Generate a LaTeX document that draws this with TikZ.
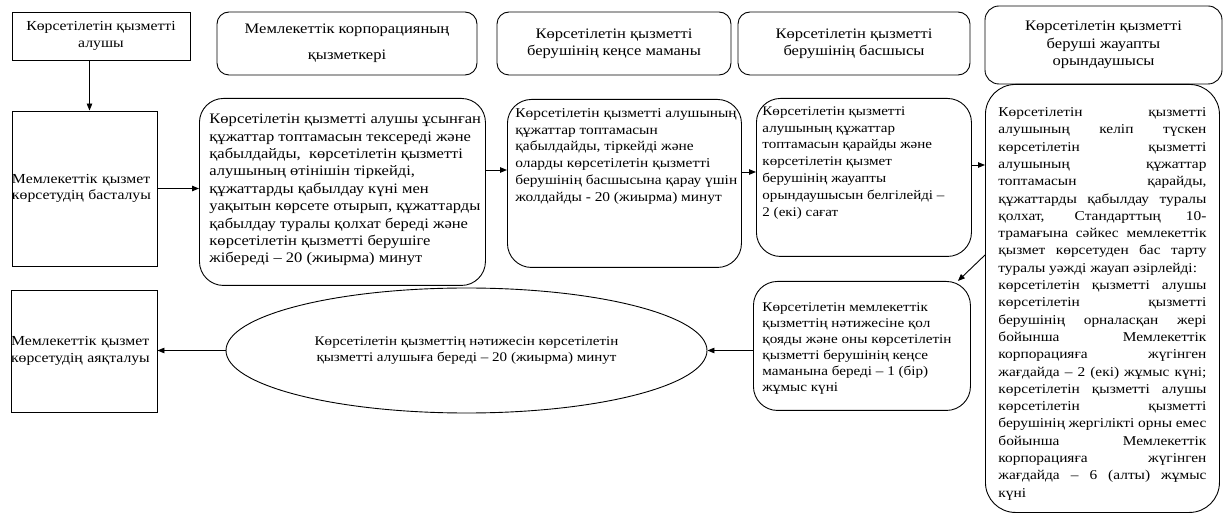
\documentclass[tikz,border=0pt]{standalone}
\usepackage{fontspec}
\setmainfont{Liberation Serif}[FakeStretch=1.14]
\usetikzlibrary{arrows.meta,shapes.geometric}
\newcommand{\topbox}[3]{\parbox[c][#2][t]{#1}{\begin{tabular}{@{}l@{}}#3\end{tabular}}}
\newcommand{\jline}[1]{\makebox[\linewidth][s]{#1}}

\begin{document}
\begin{tikzpicture}[x=1pt,y=-1pt,
    every node/.style={font=\fontsize{14.5}{17.4}\selectfont, line width=0.9pt},
    small/.style={font=\fontsize{#1}{16.8}\selectfont},
    sq/.style={draw, rectangle, inner sep=0pt},
    head/.style={draw, rectangle, rounded corners=12pt, align=center, minimum height=63pt},
    proc/.style={draw, rectangle, rounded corners=24pt, anchor=north west},
    arr/.style={-{Triangle[length=7pt,width=5.5pt]}, line width=0.9pt}]
    \useasboundingbox (0,0) rectangle (1227,521);

    % top row
    \node[sq, small=13.8, minimum width=178pt, minimum height=48pt, align=center] (h1) at (101,36) {Көрсетілетін қызметті\\алушы};
    \node[head, minimum width=260pt] (h2) at (347,43.5) {Мемлекеттік корпорацияның\\[9pt]қызметкері};
    \node[head, minimum width=234pt] (h3) at (614,43.5) {Көрсетілетін қызметті\\берушінің кеңсе маманы};
    \node[head, minimum width=232pt] (h4) at (854,43.5) {Көрсетілетін қызметті\\берушінің басшысы};
    \node[head, rounded corners=14pt, minimum width=237pt, minimum height=78pt] (h5) at (1103.5,45) {Көрсетілетін қызметті\\беруші жауапты\\орындаушысы};

    % steps
    \node[sq, small=13.8, minimum width=145pt, minimum height=155pt, text width=145pt, align=left] (start) at (84.5,188.5) {Мемлекеттік қызмет\\көрсетудің басталуы};
    \node[proc, inner xsep=10pt, inner ysep=13pt] (A) at (199,98) {\topbox{266pt}{161pt}{Көрсетілетін қызметті алушы ұсынған\\
        құжаттар топтамасын тексереді және\\
        қабылдайды,~ көрсетілетін қызметті\\
        алушының өтінішін тіркейді,\\
        құжаттарды қабылдау күні мен\\
        уақытын көрсете отырып, құжаттарды\\
        қабылдау туралы қолхат береді және\\
        көрсетілетін қызметті берушіге\\
        жібереді – 20 (жиырма) минут}};
    \node[proc, small=13.5, inner xsep=8pt, inner ysep=6pt] (B) at (507,99) {\topbox{218pt}{156pt}{Көрсетілетін қызметті алушының\\
        құжаттар топтамасын\\
        қабылдайды, тіркейді және\\
        оларды көрсетілетін қызметті\\
        берушінің басшысына қарау үшін\\
        жолдайды - 20 (жиырма) минут}};
    \node[proc, small=13.2, inner xsep=6pt, inner ysep=5pt] (C) at (756,98) {\topbox{203pt}{148pt}{Көрсетілетін қызметті\\
        алушының құжаттар\\
        топтамасын қарайды және\\
        көрсетілетін қызмет\\
        берушінің жауапты\\
        орындаушысын белгілейді –\\
        2 (екі) сағат}};
    \node[proc, rounded corners=30pt, inner xsep=13pt, inner ysep=20pt, font=\fontsize{13.5}{17.3}\selectfont] (E) at (985,84) {\topbox{208pt}{388pt}{\jline{Көрсетілетін қызметті}\\
        \jline{алушының келіп түскен}\\
        \jline{көрсетілетін қызметті}\\
        \jline{алушының құжаттар}\\
        \jline{топтамасын қарайды,}\\
        \jline{құжаттарды қабылдау туралы}\\
        \jline{қолхат, Стандарттың 10-}\\
        \jline{трамағына сәйкес мемлекеттік}\\
        \jline{қызмет көрсетуден бас тарту}\\
        туралы уәжді жауап әзірлейді:\\
        \jline{көрсетілетін қызметті алушы}\\
        \jline{көрсетілетін қызметті}\\
        \jline{берушінің орналасқан жері}\\
        \jline{бойынша Мемлекеттік}\\
        \jline{корпорацияға жүгінген}\\
        \jline{жағдайда – 2 (екі) жұмыс күні;}\\
        \jline{көрсетілетін қызметті алушы}\\
        \jline{көрсетілетін қызметті}\\
        \jline{берушінің жергілікті орны емес}\\
        \jline{бойынша Мемлекеттік}\\
        \jline{корпорацияға жүгінген}\\
        \jline{жағдайда – 6 (алты) жұмыс}\\
        күні}};
    \node[proc, font=\fontsize{13.3}{16}\selectfont, inner xsep=9pt, inner ysep=19pt] (D) at (753,281) {\topbox{199pt}{91pt}{Көрсетілетін мемлекеттік\\
        қызметтің нәтижесіне қол\\
        қояды және оны көрсетілетін\\
        қызметті берушінің кеңсе\\
        маманына береді – 1 (бір)\\
        жұмыс күні}};
    \node[draw, ellipse, small=13.2, minimum width=481pt, minimum height=125pt, inner sep=0pt, align=center] (res) at (466.5,350.5) {Көрсетілетін қызметтің нәтижесін көрсетілетін\\қызметті алушыға береді – 20 (жиырма) минут};
    \node[sq, small=13.8, minimum width=146pt, minimum height=122pt, text width=146pt, align=left] (finish) at (84,351) {Мемлекеттік қызмет\\көрсетудің аяқталуы};

    % arrows
    \draw[arr] ([xshift=5pt]start.north |- h1.south) -- ([xshift=5pt]start.north);
    \draw[arr] (start.east) -- (start.east -| A.west);
    \draw[arr] (A.east |- 0,170) -- (B.west |- 0,170);
    \draw[arr] (B.east |- 0,172) -- (C.west |- 0,172);
    \draw[arr] (C.east |- 0,165) -- (E.west |- 0,165);
    \draw[arr] (E.west |- 0,255) -- ([xshift=-13pt]D.north east);
    \draw[arr] (D.west |- res.east) -- (res.east);
    \draw[arr] (res.west) -- (res.west -| finish.east);
\end{tikzpicture}
\end{document}
